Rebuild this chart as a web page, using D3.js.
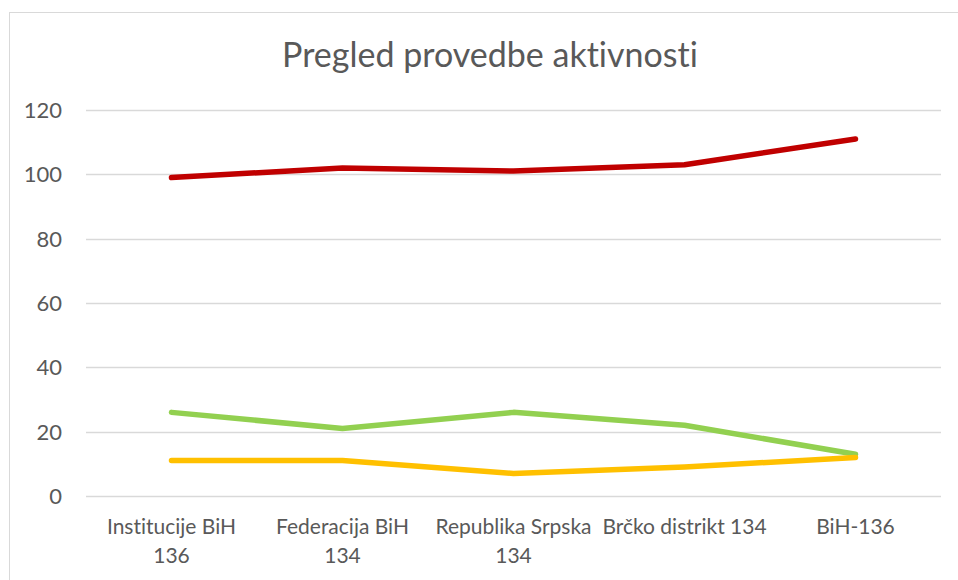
<!DOCTYPE html>
<html>
<head>
<meta charset="utf-8">
<script src="https://cdn.jsdelivr.net/npm/d3@7"></script>
<style>
  body { margin: 0; background: #fff; }
  svg { font-family: Lato, "Open Sans", sans-serif; font-variant-ligatures: none; }
</style>
</head>
<body>
<div id="chart"></div>
<script>
var categories = ["Institucije BiH 136", "Federacija BiH 134", "Republika Srpska 134", "Brčko distrikt 134", "BiH-136"];
var redValues = [99, 102, 101, 103, 111];
var greenValues = [26, 21, 26, 22, 13];
var yellowValues = [11, 11, 7, 9, 12];
var yTicks = [0, 20, 40, 60, 80, 100, 120];

var series = [
    { name: "red", values: redValues, color: "#C00000" },
    { name: "green", values: greenValues, color: "#92D050" },
    { name: "yellow", values: yellowValues, color: "#FFC000" }
];

var W = 958, H = 580;
var margin = { top: 110, right: 17, bottom: 84, left: 86 },
    width = W - margin.left - margin.right,
    height = H - margin.top - margin.bottom;

var svgRoot = d3.select("#chart")
    .append("svg")
    .attr("width", W)
    .attr("height", H);

// chart border (left and top visible)
svgRoot.append("rect")
    .attr("x", 9.5)
    .attr("y", 12.5)
    .attr("width", W + 20)
    .attr("height", H + 20)
    .style("fill", "none")
    .style("stroke", "#d9d9d9")
    .style("stroke-width", 1);

svgRoot.append("text")
    .attr("x", 490)
    .attr("y", 67)
    .attr("text-anchor", "middle")
    .style("font-size", "34px")
    .style("fill", "#595959")
    .text("Pregled provedbe aktivnosti");

var svg = svgRoot.append("g")
    .attr("transform", "translate(" + margin.left + "," + margin.top + ")");

var x = d3.scaleBand()
    .domain(categories)
    .range([0, width]);

var y = d3.scaleLinear()
    .domain([0, 120])
    .range([height, 0]);

// gridlines
svg.selectAll(".grid")
    .data(yTicks)
    .enter()
    .append("line")
    .attr("x1", 0)
    .attr("x2", width)
    .attr("y1", function (d) { return Math.round(y(d)) + 0.5; })
    .attr("y2", function (d) { return Math.round(y(d)) + 0.5; })
    .style("stroke", "#d9d9d9")
    .style("stroke-width", 1.3);

// y labels
svg.selectAll(".ylab")
    .data(yTicks)
    .enter()
    .append("text")
    .attr("x", -24)
    .attr("y", function (d) { return y(d); })
    .attr("dy", "0.36em")
    .attr("text-anchor", "end")
    .style("font-size", "22px")
    .style("fill", "#595959")
    .text(function (d) { return d; });

// x labels, wrapped like the original
var wrapped = {
    "Institucije BiH 136": ["Institucije BiH", "136"],
    "Federacija BiH 134": ["Federacija BiH", "134"],
    "Republika Srpska 134": ["Republika Srpska", "134"],
    "Brčko distrikt 134": ["Brčko distrikt 134"],
    "BiH-136": ["BiH-136"]
};

var xl = svg.selectAll(".xlab")
    .data(categories)
    .enter()
    .append("text")
    .attr("text-anchor", "middle")
    .style("font-size", "21px")
    .style("fill", "#595959")
    .attr("transform", function (d) {
        return "translate(" + (x(d) + x.bandwidth() / 2) + "," + (height + 38) + ")";
    });

xl.selectAll("tspan")
    .data(function (d) { return wrapped[d]; })
    .enter()
    .append("tspan")
    .attr("x", 0)
    .attr("y", function (d, i) { return i * 29; })
    .text(function (d) { return d; });

var line = d3.line()
    .x(function (d, i) { return x(categories[i]) + x.bandwidth() / 2; })
    .y(function (d) { return y(d); });

svg.selectAll(".series")
    .data(series)
    .enter()
    .append("path")
    .attr("d", function (d) { return line(d.values); })
    .style("fill", "none")
    .style("stroke", function (d) { return d.color; })
    .style("stroke-width", 5.5)
    .style("stroke-linejoin", "round")
    .style("stroke-linecap", "round");
</script>
</body>
</html>
